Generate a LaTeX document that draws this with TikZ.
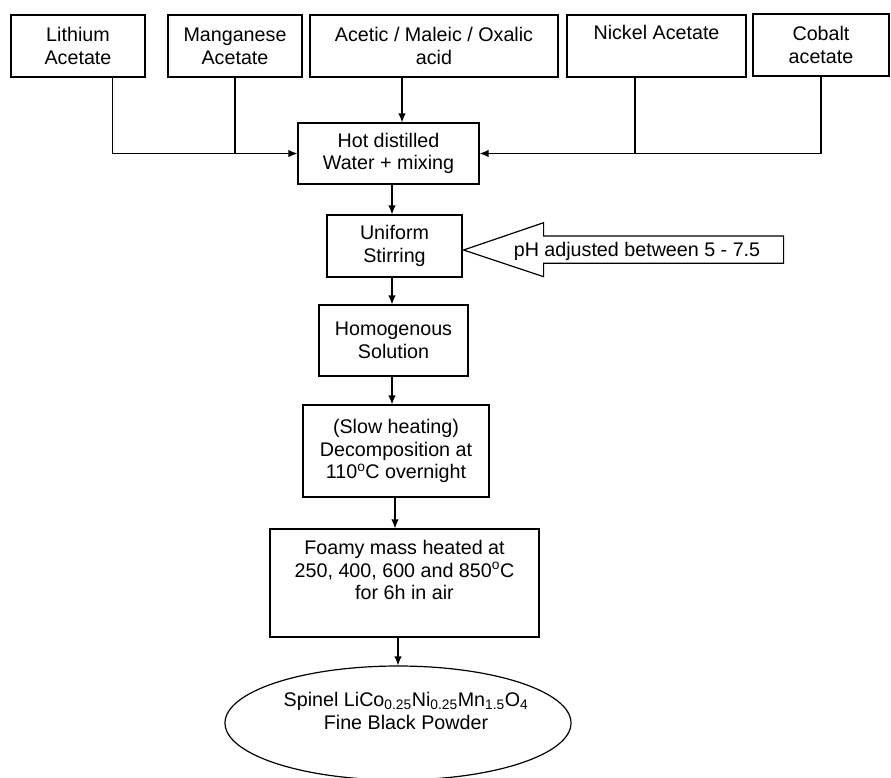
\documentclass[tikz,border=0pt]{standalone}
\usepackage{fontspec}
\setmainfont{Liberation Sans}
\usetikzlibrary{arrows.meta,shapes.geometric}
\begin{document}
\begin{tikzpicture}[x=1pt,y=-1pt,
  every node/.style={font=\fontsize{19.7}{22.8}\selectfont},
  box/.style={draw,line width=1.2pt,inner sep=0pt,align=center},
  con/.style={line width=1.2pt},
  arr/.style={line width=1.2pt,-{Latex[length=9pt,width=7.5pt]}}]
\useasboundingbox (0,0) rectangle (891,777);
% top row
\node[box,minimum width=134pt,minimum height=62pt] (li) at (78,46) {Lithium\\Acetate};
\node[box,minimum width=134pt,minimum height=62pt] (mn) at (235,46) {Manganese\\Acetate};
\node[box,minimum width=248pt,minimum height=62pt] (ac) at (434,46) {Acetic / Maleic / Oxalic\\acid};
\node[box,minimum width=179pt,minimum height=62pt] (ni) at (656.5,46) {Nickel Acetate\\\phantom{g}};
\node[box,minimum width=136pt,minimum height=62pt] (co) at (821,45) {Cobalt\\acetate};
% process chain
\node[box,minimum width=181pt,minimum height=61pt] (hot) at (388.5,153.5) {Hot distilled\\Water + mixing};
\node[box,minimum width=135pt,minimum height=62pt] (uni) at (394.5,246) {Uniform\\Stirring};
\node[box,minimum width=149pt,minimum height=71pt] (hom) at (393.5,340.5) {Homogenous\\Solution};
\node[box,minimum width=186pt,minimum height=92pt] (slow) at (396,451) {(Slow heating)\\Decomposition at\\110\textsuperscript{o}C overnight};
\node[box,minimum width=269pt,minimum height=108pt] (foam) at (404.5,583) {};
\node (foamt) at (404.5,570) [align=center] {Foamy mass heated at\\250, 400, 600 and 850\textsuperscript{o}C\\for 6h in air};
\node[draw,ellipse,line width=1.2pt,minimum width=346pt,minimum height=114pt,inner sep=0pt] (ell) at (398,723) {};
\node (ellt) at (406,711) [align=center] {Spinel LiCo\textsubscript{0.25}Ni\textsubscript{0.25}Mn\textsubscript{1.5}O\textsubscript{4}\\Fine Black Powder};
% column coordinates
\coordinate (xa) at (392,0);
\coordinate (xb) at (395,0);
\coordinate (xc) at (398,0);
% inputs
\draw[arr] ([xshift=34.5pt]li.south) |- (hot.west);
\draw[con] (mn.south) -- (mn.south |- hot.west);
\draw[arr] ([xshift=-32pt]ac.south) -- ([xshift=-32pt]ac.south |- hot.north);
\draw[arr] (co.south) |- (hot.east);
\draw[con] ([xshift=-21.5pt]ni.south) -- ([xshift=-21.5pt]ni.south |- hot.east);
% chain arrows
\draw[arr] (xa |- hot.south) -- (xa |- uni.north);
\draw[arr] (xa |- uni.south) -- (xa |- hom.north);
\draw[arr] (xa |- hom.south) -- (xa |- slow.north);
\draw[arr] (xb |- slow.south) -- (xb |- foam.north);
\draw[arr] (xc |- foam.south) -- (xc |- ell.north);
% pH block arrow
\draw[line width=1.2pt] ([xshift=1pt,yshift=-4pt]uni.east) -- ++(80,-27.3) -- ++(0,13.3) -- ++(240,0) -- ++(0,27.3) -- ++(-240,0) -- ++(0,13.4) -- cycle;
\node (ph) at (637,251) {pH adjusted between 5 - 7.5};
\end{tikzpicture}
\end{document}
